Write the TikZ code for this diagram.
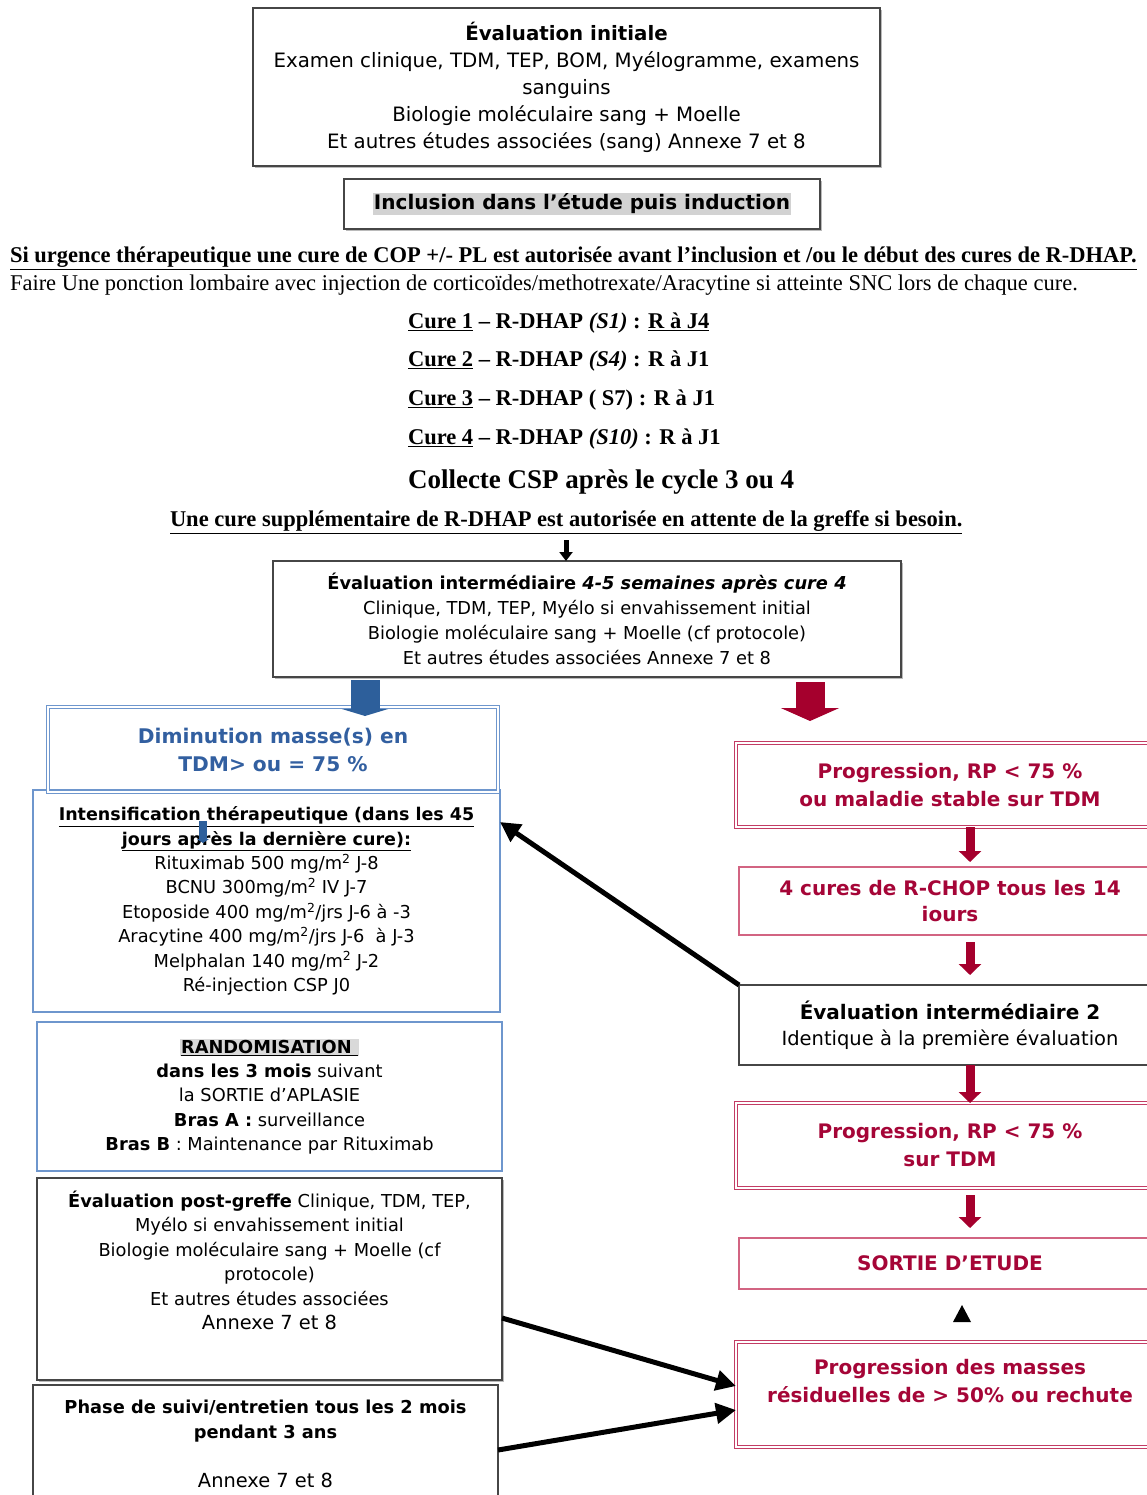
\documentclass[tikz,border=0pt]{standalone}
\usepackage{fontspec}
\setmainfont{Liberation Serif}
\setsansfont{DejaVu Sans}
\usetikzlibrary{arrows.meta,calc,shadows}

\definecolor{bluetxt}{RGB}{50,95,160}
\definecolor{blueline}{RGB}{110,150,205}
\definecolor{bluearr}{RGB}{45,95,155}
\definecolor{redtxt}{RGB}{165,5,55}
\definecolor{redline}{RGB}{195,60,100}
\definecolor{redlight}{RGB}{210,100,130}
\definecolor{redarr}{RGB}{165,0,45}
\definecolor{grayline}{RGB}{70,70,70}

\newcommand{\setfs}[2]{\fontsize{#1}{#2}\selectfont}

\begin{document}
\begin{tikzpicture}[x=1pt,y=-1pt,
  every node/.style={inner sep=0pt, outer sep=0pt},
  boxbase/.style={rectangle, anchor=north west, align=center},
  graybox/.style={boxbase, draw=grayline, line width=1.2pt},
  bluebox/.style={boxbase, draw=blueline, line width=1.2pt},
  bluedbl/.style={boxbase, draw=blueline, double=white, double distance=2.6pt, line width=1.1pt},
  reddbl/.style={boxbase, draw=redline, double=white, double distance=2.6pt, line width=1.1pt, text=redtxt},
  redbox/.style={boxbase, draw=redlight, line width=1.2pt, text=redtxt},
  serifline/.style={anchor=west, font={\rmfamily\bfseries\setfs{22.5}{27}}},
  redarrow/.style={draw=redarr, line width=9pt, -{Triangle[length=11pt,width=22pt]}},
  blkarrow/.style={draw=black, line width=5pt, -{Triangle[length=20pt,width=20pt]}},
  shadowed/.style={fill=white, drop shadow={shadow xshift=2pt,shadow yshift=-2pt,fill=black!45,opacity=0.6}},
]
\useasboundingbox (0,0) rectangle (1147,1495);
\clip (0,0) rectangle (1147,1495);

% ---------- top ----------
\node[graybox, shadowed, minimum width=627pt, minimum height=158pt,
      font={\sffamily\setfs{19.8}{27}}] (init) at (253,8)
  {\textbf{Évaluation initiale}\\
   Examen clinique, TDM, TEP, BOM, Myélogramme, examens\\
   sanguins\\
   Biologie moléculaire sang + Moelle\\
   Et autres études associées (sang) Annexe 7 et 8};

\node[graybox, shadowed, minimum width=476pt, minimum height=50pt,
      font={\sffamily\bfseries\setfs{20}{24}}] (incl) at (344,179)
  {{\fboxsep=1pt\colorbox{gray!35}{Inclusion dans l’étude puis induction}}};

% ---------- serif text ----------
\node[serifline] (urg) at (10,258.5)
  {\underline{Si urgence thérapeutique une cure de COP +/- PL est autorisée avant l’inclusion et /ou le début des cures de R-DHAP.}};
\node[serifline, font={\rmfamily\setfs{22.5}{27}}] (faire) at (10,285)
  {Faire Une ponction lombaire avec injection de corticoïdes/methotrexate/Aracytine si atteinte SNC lors de chaque cure.};
\node[serifline] (c1) at (408,323.5) {\underline{Cure 1} – R-DHAP \textit{(S1)} : \underline{R à J4}};
\node[serifline] (c2) at (408,361.5) {\underline{Cure 2} – R-DHAP \textit{(S4)} : R à J1};
\node[serifline] (c3) at (408,400.5) {\underline{Cure 3} – R-DHAP ( S7) : R à J1};
\node[serifline] (c4) at (408,439.5) {\underline{Cure 4} – R-DHAP \textit{(S10)} : R à J1};
\node[serifline, font={\rmfamily\bfseries\setfs{27}{32}}] (coll) at (408,482.5) {Collecte CSP après le cycle 3 ou 4};
\node[serifline] (supp) at (170,522.5)
  {\underline{Une cure supplémentaire de R-DHAP est autorisée en attente de la greffe si besoin.}};

% ---------- intermediate evaluation ----------
\node[graybox, shadowed, minimum width=628pt, minimum height=116pt,
      font={\sffamily\setfs{17.8}{25}}] (evi1) at (273,561)
  {\textbf{Évaluation intermédiaire \textit{4-5 semaines après cure 4}}\\
   Clinique, TDM, TEP, Myélo si envahissement initial\\
   Biologie moléculaire sang + Moelle (cf protocole)\\
   Et autres études associées Annexe 7 et 8};

\coordinate (a0) at (566,540);
\draw[draw=black, line width=5pt, -{Triangle[length=9pt,width=13pt]}] (a0) -- (a0 |- evi1.north);

% ---------- left column ----------
\node[bluebox, minimum width=467pt, minimum height=222pt,
      font={\sffamily\setfs{17.8}{24.4}}] (intens) at (33,790)
  {{\setfs{17.5}{24.4}\textbf{\underline{Intensification thérapeutique (dans les 45}}}\\
   {\setfs{17.5}{24.4}\textbf{\underline{jours après la dernière cure):}}}\\
   Rituximab 500 mg/m\textsuperscript{2} J-8\\
   BCNU 300mg/m\textsuperscript{2} IV J-7\\
   Etoposide 400 mg/m\textsuperscript{2}/jrs J-6 à -3\\
   Aracytine 400 mg/m\textsuperscript{2}/jrs J-6 \ à J-3\\
   Melphalan 140 mg/m\textsuperscript{2} J-2\\
   Ré-injection CSP J0};

\node[bluedbl, minimum width=450pt, minimum height=85pt, text=bluetxt,
      font={\sffamily\bfseries\setfs{20.2}{28}}] (dim) at (48,707)
  {Diminution masse(s) en\\ TDM> ou = 75 \%};

\coordinate (bm0) at (203,821);
\coordinate (bm1) at (203,843);
\draw[draw=bluearr, line width=8pt, -{Triangle[length=4pt,width=12pt]}] (bm0) -- (bm1);

\node[bluebox, minimum width=465pt, minimum height=149pt,
      font={\sffamily\setfs{17.8}{24.3}}] (rand) at (37,1022)
  {{\fboxsep=1pt\colorbox{gray!30}{\textbf{\underline{RANDOMISATION\ }}}}\\
   \textbf{dans les 3 mois} suivant\\
   la SORTIE d’APLASIE\\
   \textbf{Bras A :} surveillance\\
   \textbf{Bras B} : Maintenance par Rituximab};

\node[graybox, shadowed, minimum width=465pt, minimum height=202pt] (pg) at (37,1178) {};
\node[anchor=north, align=center, font={\sffamily\setfs{17.8}{24.4}}] (pgtext) at ([yshift=-13pt]pg.north)
  {\textbf{Évaluation post-greffe} Clinique, TDM, TEP,\\
   Myélo si envahissement initial\\
   Biologie moléculaire sang + Moelle (cf\\
   protocole)\\
   Et autres études associées\\
   {\setfs{19.4}{24.4}Annexe 7 et 8}};

\node[graybox, minimum width=465pt, minimum height=140pt] (phase) at (33,1385) {};
\node[anchor=north, align=center, font={\sffamily\setfs{17.8}{25}}] (phasetext) at ([yshift=-15pt]phase.north)
  {\textbf{Phase de suivi/entretien tous les 2 mois}\\
   \textbf{pendant 3 ans}\\[24pt]
   {\setfs{19.4}{25}Annexe 7 et 8}};

% ---------- right column ----------
\node[reddbl, minimum width=428pt, minimum height=84pt,
      font={\sffamily\bfseries\setfs{20}{28}}] (prog1) at (736,743)
  {Progression, RP < 75 \%\\ ou maladie stable sur TDM};

\node[redbox, minimum width=422pt, minimum height=68pt,
      font={\sffamily\bfseries\setfs{20}{26}}] (rchop) at (739,867)
  {4 cures de R-CHOP tous les 14\\ iours};

\node[graybox, minimum width=422pt, minimum height=80pt,
      font={\sffamily\setfs{19.5}{26}}] (evi2) at (739,985)
  {{\setfs{20}{26}\textbf{Évaluation intermédiaire 2}}\\ Identique à la première évaluation};

\node[reddbl, minimum width=428pt, minimum height=85pt,
      font={\sffamily\bfseries\setfs{20}{28}}] (prog2) at (736,1103)
  {Progression, RP < 75 \%\\ sur TDM};

\node[redbox, minimum width=422pt, minimum height=51pt,
      font={\sffamily\bfseries\setfs{20}{26}}] (sortie) at (739,1238)
  {SORTIE D’ETUDE};

\node[reddbl, minimum width=428pt, minimum height=105pt,
      font={\sffamily\bfseries\setfs{20}{28}}] (prog3) at (736,1342)
  {Progression des masses\\ résiduelles de > 50\% ou rechute\\ \mbox{}};

% ---------- block arrows ----------
\coordinate (bl1) at (365,716);
\draw[draw=bluearr, line width=29pt, -{Triangle[length=7pt,width=46pt]}, shorten <=3pt]
  (evi1.south -| bl1) -- (bl1);
\coordinate (rd1) at (810,721);
\draw[draw=redarr, line width=29pt, -{Triangle[length=13pt,width=58pt]}, shorten <=5pt]
  (evi1.south -| rd1) -- (rd1);

% ---------- red arrows right ----------
\draw[redarrow] ([xshift=20pt]prog1.south) -- ([xshift=20pt,yshift=5pt]rchop.north);
\draw[redarrow] ([xshift=20pt,yshift=-7pt]rchop.south) -- ([xshift=20pt,yshift=10pt]evi2.north);
\draw[redarrow] ([xshift=20pt]evi2.south) -- ([xshift=20pt]prog2.north);
\draw[redarrow] ([xshift=20pt,yshift=-7pt]prog2.south) -- ([xshift=20pt,yshift=10pt]sortie.north);

% small black triangle
\fill[black] (953,1322) -- (971,1322) -- (962,1305) -- cycle;

% ---------- black arrows ----------
\coordinate (k1) at (500,822);
\draw[blkarrow] (evi2.north west) -- (k1);
\draw[blkarrow] ($(pg.north east)+(0,140)$) -- ($(prog3.north west)+(0,44)$);
\draw[blkarrow] ($(phase.north east)+(0,65)$) -- ($(prog3.north west)+(0,68)$);

\end{tikzpicture}
\end{document}
